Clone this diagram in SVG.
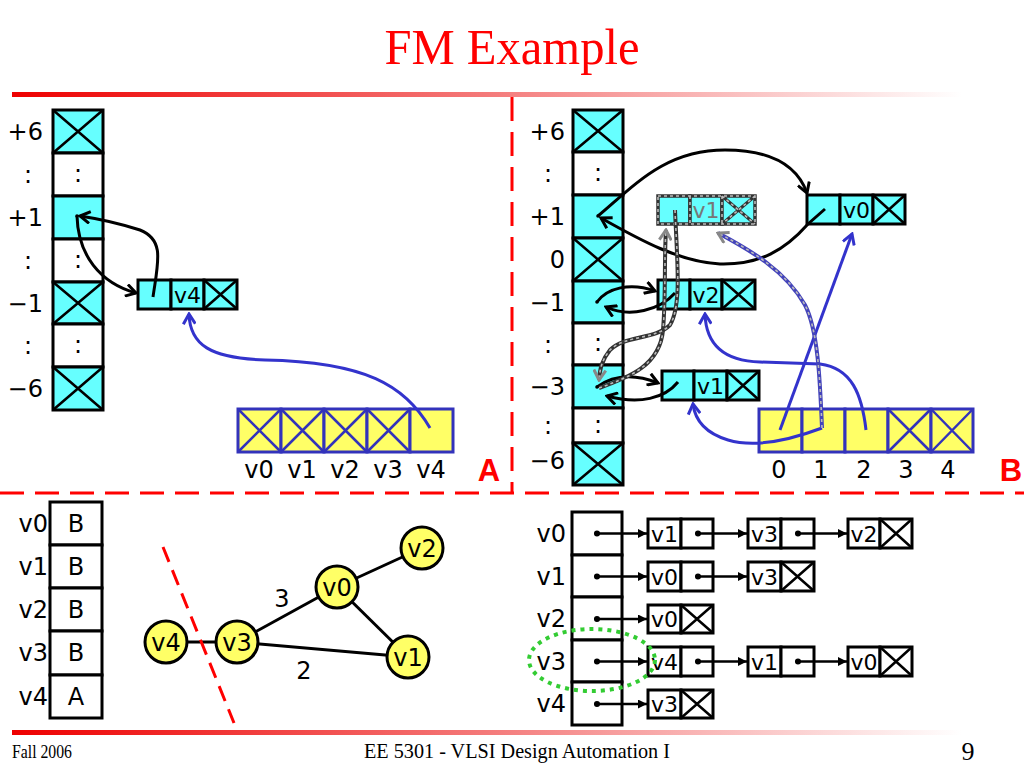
<svg xmlns="http://www.w3.org/2000/svg" width="1024" height="768" viewBox="0 0 1024 768">
<defs>
<linearGradient id="rg" x1="0" y1="0" x2="1" y2="0">
<stop offset="0" stop-color="#ee0000"/><stop offset="0.5" stop-color="#f47a7a"/><stop offset="1" stop-color="#ffffff"/>
</linearGradient>
<marker id="ab" viewBox="0 0 14 14" refX="12" refY="7" markerWidth="14" markerHeight="14" markerUnits="userSpaceOnUse" orient="auto"><path d="M2,1 L12,7 L2,13" fill="none" stroke="#000" stroke-width="3"/></marker>
<marker id="abl" viewBox="0 0 14 14" refX="12" refY="7" markerWidth="14" markerHeight="14" markerUnits="userSpaceOnUse" orient="auto"><path d="M2,1 L12,7 L2,13" fill="none" stroke="#3333cc" stroke-width="3"/></marker>
<marker id="agr" viewBox="0 0 14 14" refX="12" refY="7" markerWidth="14" markerHeight="14" markerUnits="userSpaceOnUse" orient="auto"><path d="M2,1 L12,7 L2,13" fill="none" stroke="#888" stroke-width="3"/></marker>
<marker id="tri" viewBox="0 0 10 10" refX="10" refY="5" markerWidth="10" markerHeight="9" markerUnits="userSpaceOnUse" orient="auto"><path d="M0,0 L10,5 L0,10 z" fill="#000"/></marker>
</defs>
<style>
.lbl{font-family:"DejaVu Sans","Liberation Sans",sans-serif;font-size:24px;fill:#000}
.sm{font-family:"DejaVu Sans","Liberation Sans",sans-serif;font-size:22px;fill:#000}
.ser{font-family:"Liberation Serif",serif;fill:#000}
.cell{stroke:#000;stroke-width:3}
.cy{fill:#66ffff}
.wh{fill:#fff}
.x{stroke:#000;stroke-width:2.5}
.yb{fill:#ffff66;stroke:#3333bb;stroke-width:3}
.bx{stroke:#3333bb;stroke-width:2.5}
.blk{fill:none;stroke:#000;stroke-width:3}
.blu{fill:none;stroke:#3333cc;stroke-width:3}
.dsh1{fill:none;stroke:#333;stroke-width:4}
.dsh2{fill:none;stroke:#bbb;stroke-width:1.6;stroke-dasharray:3 3}
.red{fill:none;stroke:#ff0000;stroke-width:3;stroke-dasharray:24 11}
.c{text-anchor:middle}
.e{text-anchor:end}
</style>
<rect width="1024" height="768" fill="#fff"/>
<text x="512" y="64" class="ser c" font-size="50" style="fill:#ff0000" textLength="255" lengthAdjust="spacingAndGlyphs">FM Example</text>
<rect x="12" y="92" width="950" height="5" fill="url(#rg)"/>
<rect x="12" y="730" width="950" height="5" fill="url(#rg)"/>
<line x1="512" y1="97" x2="512" y2="492" class="red"/>
<line x1="0" y1="493" x2="1024" y2="493" class="red"/>

<!-- Panel A -->
<g id="bucketA">
<rect x="53" y="110" width="50" height="43" class="cell cy"/><path d="M53,110 L103,153 M103,110 L53,153" class="x"/>
<rect x="53" y="153" width="50" height="43" class="cell wh"/><text x="78" y="182" class="lbl c">:</text>
<rect x="53" y="196" width="50" height="43" class="cell cy"/>
<rect x="53" y="239" width="50" height="43" class="cell wh"/><text x="78" y="268" class="lbl c">:</text>
<rect x="53" y="282" width="50" height="42" class="cell cy"/><path d="M53,282 L103,324 M103,282 L53,324" class="x"/>
<rect x="53" y="324" width="50" height="43" class="cell wh"/><text x="78" y="353" class="lbl c">:</text>
<rect x="53" y="367" width="50" height="43" class="cell cy"/><path d="M53,367 L103,410 M103,367 L53,410" class="x"/>
<circle cx="77" cy="216" r="1.8"/>
</g>
<g id="labelsA">
<text x="43" y="140" class="lbl e">+6</text>
<text x="28" y="183" class="lbl c">:</text>
<text x="43" y="226" class="lbl e">+1</text>
<text x="28" y="269" class="lbl c">:</text>
<text x="43" y="312" class="lbl e">−1</text>
<text x="28" y="354" class="lbl c">:</text>
<text x="43" y="397" class="lbl e">−6</text>
</g>
<g id="nodeA-v4">
<rect x="138" y="280" width="33" height="29" class="cell cy"/>
<rect x="171" y="280" width="33" height="29" class="cell cy"/><text x="187.5" y="302.5" class="sm c">v4</text>
<rect x="204" y="280" width="33" height="29" class="cell cy"/><path d="M204,280 L237,309 M237,280 L204,309" class="x"/>
</g>
<g id="gainA">
<rect x="238" y="409" width="43" height="43" class="yb"/><path d="M238,409 L281,452 M281,409 L238,452" class="bx"/>
<rect x="281" y="409" width="43" height="43" class="yb"/><path d="M281,409 L324,452 M324,409 L281,452" class="bx"/>
<rect x="324" y="409" width="43" height="43" class="yb"/><path d="M324,409 L367,452 M367,409 L324,452" class="bx"/>
<rect x="367" y="409" width="43" height="43" class="yb"/><path d="M367,409 L410,452 M410,409 L367,452" class="bx"/>
<rect x="410" y="409" width="43" height="43" class="yb"/>
<text x="259" y="478" class="lbl c">v0</text><text x="302" y="478" class="lbl c">v1</text><text x="345" y="478" class="lbl c">v2</text><text x="388" y="478" class="lbl c">v3</text><text x="431" y="478" class="lbl c">v4</text>
</g>
<text x="489" y="481" font-family="Liberation Sans,sans-serif" font-weight="bold" font-size="31" fill="#ff0000" text-anchor="middle">A</text>
<g id="connectorsA">
<path d="M77,216 C78,255 100,283 136,293" class="blk" marker-end="url(#ab)"/>
<path d="M153,297 C158,262 165,240 140,230 C115,222 100,219 80,216" class="blk" marker-end="url(#ab)"/>
<path d="M430,428 C405,385 365,362 265,360 C210,358 190,345 189,314" class="blu" marker-end="url(#abl)"/>
</g>

<!-- Panel B -->
<g id="bucketB">
<rect x="573" y="110" width="50" height="42" class="cell cy"/><path d="M573,110 L623,152 M623,110 L573,152" class="x"/>
<rect x="573" y="152" width="50" height="43" class="cell wh"/><text x="598" y="181" class="lbl c">:</text>
<rect x="573" y="195" width="50" height="43" class="cell cy"/>
<rect x="573" y="238" width="50" height="43" class="cell cy"/><path d="M573,238 L623,281 M623,238 L573,281" class="x"/>
<rect x="573" y="281" width="50" height="42" class="cell cy"/>
<rect x="573" y="323" width="50" height="42" class="cell wh"/><text x="598" y="351" class="lbl c">:</text>
<rect x="573" y="365" width="50" height="43" class="cell cy"/>
<rect x="573" y="408" width="50" height="35" class="cell wh"/><text x="598" y="433" class="lbl c">:</text>
<rect x="573" y="443" width="50" height="42" class="cell cy"/><path d="M573,443 L623,485 M623,443 L573,485" class="x"/>
</g>
<g id="labelsB">
<text x="565" y="140" class="lbl e">+6</text>
<text x="548" y="182" class="lbl c">:</text>
<text x="565" y="225" class="lbl e">+1</text>
<text x="565" y="268" class="lbl e">0</text>
<text x="565" y="311" class="lbl e">−1</text>
<text x="548" y="353" class="lbl c">:</text>
<text x="565" y="395" class="lbl e">−3</text>
<text x="548" y="434" class="lbl c">:</text>
<text x="565" y="469" class="lbl e">−6</text>
</g>
<g id="nodeB-v1-dashed">
<rect x="658" y="196" width="32" height="28" class="cy" stroke="#333" stroke-width="3.5"/>
<rect x="690" y="196" width="32" height="28" class="cy" stroke="#333" stroke-width="3.5"/>
<rect x="722" y="196" width="33" height="28" class="cy" stroke="#333" stroke-width="3.5"/>
<path d="M722,196 L755,224 M755,196 L722,224" stroke="#333" stroke-width="3"/>
<path d="M658,196 H755 V224 H658 Z M690,196 V224 M722,196 V224 M722,196 L755,224 M755,196 L722,224" class="dsh2"/>
<text x="706" y="218" class="sm c" style="fill:#777">v1</text>
</g>
<g id="nodeB-v0">
<rect x="807" y="195" width="33" height="29" class="cell cy"/>
<rect x="840" y="195" width="33" height="29" class="cell cy"/><text x="856.5" y="217.5" class="sm c">v0</text>
<rect x="873" y="195" width="32" height="29" class="cell cy"/><path d="M873,195 L905,224 M905,195 L873,224" class="x"/>
</g>
<g id="nodeB-v2">
<rect x="658" y="280" width="32" height="29" class="cell cy"/>
<rect x="690" y="280" width="32" height="29" class="cell cy"/><text x="706" y="302.5" class="sm c">v2</text>
<rect x="722" y="280" width="33" height="29" class="cell cy"/><path d="M722,280 L755,309 M755,280 L722,309" class="x"/>
</g>
<g id="nodeB-v1">
<rect x="662" y="371" width="32" height="29" class="cell cy"/>
<rect x="694" y="371" width="33" height="29" class="cell cy"/><text x="710.5" y="393.5" class="sm c">v1</text>
<rect x="727" y="371" width="32" height="29" class="cell cy"/><path d="M727,371 L759,400 M759,371 L727,400" class="x"/>
</g>
<g id="gainB">
<rect x="759" y="409" width="43" height="43" class="yb"/>
<rect x="802" y="409" width="43" height="43" class="yb"/>
<rect x="845" y="409" width="43" height="43" class="yb"/>
<rect x="888" y="409" width="43" height="43" class="yb"/><path d="M888,409 L931,452 M931,409 L888,452" class="bx"/>
<rect x="931" y="409" width="42" height="43" class="yb"/><path d="M931,409 L973,452 M973,409 L931,452" class="bx"/>
<text x="779" y="478" class="lbl c">0</text><text x="821" y="478" class="lbl c">1</text><text x="864" y="478" class="lbl c">2</text><text x="906" y="478" class="lbl c">3</text><text x="948" y="478" class="lbl c">4</text>
</g>
<text x="1011" y="481" font-family="Liberation Sans,sans-serif" font-weight="bold" font-size="31" fill="#ff0000" text-anchor="middle">B</text>
<g id="connectorsB">
<path d="M598,216 C635,185 665,150 725,150 C775,150 798,168 807,193" class="blk" marker-end="url(#ab)"/>
<path d="M825,209 L808,224 C785,250 760,265 720,264 C680,262 640,240 601,218" class="blk" marker-end="url(#ab)"/>
<path d="M597,302 C607,288 630,282 655,291" class="blk" marker-end="url(#ab)"/>
<path d="M675,293 C660,310 630,318 606,307" class="blk" marker-end="url(#ab)"/>
<path d="M597,387 C615,374 635,374 658,383" class="blk" marker-end="url(#ab)"/>
<path d="M678,382 C665,398 640,405 607,396" class="blk" marker-end="url(#ab)"/>
<path d="M599,388 C630,377 660,365 663,330 C666,295 664,260 666,230" class="dsh1"/>
<path d="M599,388 C630,377 660,365 663,330 C666,295 664,260 666,230" class="dsh2" marker-end="url(#agr)"/>
<path d="M675,210 C677,260 682,305 670,325 C655,340 625,335 610,350 C602,360 600,368 599,380" class="dsh1"/>
<path d="M675,210 C677,260 682,305 670,325 C655,340 625,335 610,350 C602,360 600,368 599,380" class="dsh2" marker-end="url(#agr)"/>
<path d="M780,430 L852,234" class="blu" marker-end="url(#abl)"/>
<path d="M866,430 C862,395 852,368 820,364 L760,362 C725,361 706,345 705,314" class="blu" marker-end="url(#abl)"/>
<path d="M822,428 C790,440 755,448 728,440 C705,433 695,420 693,404" class="blu" marker-end="url(#abl)"/>
<path d="M822,428 C820,380 818,330 805,305 C785,270 750,250 718,233" fill="none" stroke="#4444bb" stroke-width="4"/>
<path d="M822,428 C820,380 818,330 805,305 C785,270 750,250 718,233" class="dsh2" marker-end="url(#agr)"/>
<circle cx="598" cy="216" r="1.8"/><circle cx="597" cy="302" r="1.8"/><circle cx="597" cy="387" r="1.8"/>
</g>

<!-- Bottom left: partition table -->
<g id="partTable">
<rect x="50" y="502" width="52" height="43" class="cell wh"/><text x="76" y="532" class="lbl c">B</text>
<rect x="50" y="545" width="52" height="43" class="cell wh"/><text x="76" y="575" class="lbl c">B</text>
<rect x="50" y="588" width="52" height="43" class="cell wh"/><text x="76" y="618" class="lbl c">B</text>
<rect x="50" y="631" width="52" height="44" class="cell wh"/><text x="76" y="661" class="lbl c">B</text>
<rect x="50" y="675" width="52" height="43" class="cell wh"/><text x="76" y="705" class="lbl c">A</text>
<text x="48" y="532" class="lbl e">v0</text>
<text x="48" y="575" class="lbl e">v1</text>
<text x="48" y="618" class="lbl e">v2</text>
<text x="48" y="661" class="lbl e">v3</text>
<text x="48" y="705" class="lbl e">v4</text>
</g>

<!-- Bottom graph -->
<g id="graphEdges" stroke="#000" stroke-width="3">
<line x1="337" y1="587" x2="422" y2="548"/>
<line x1="337" y1="587" x2="237" y2="642"/>
<line x1="337" y1="587" x2="408" y2="657"/>
<line x1="237" y1="642" x2="408" y2="657"/>
<line x1="166" y1="642" x2="237" y2="642"/>
</g>
<line x1="163" y1="547" x2="234" y2="723" class="red" style="stroke-dasharray:16 9"/>
<g id="g-v2"><circle cx="422" cy="548" r="21" fill="#ffff66" stroke="#000" stroke-width="3"/><text x="422" y="557" class="lbl c">v2</text></g>
<g id="g-v0"><circle cx="337" cy="587" r="21" fill="#ffff66" stroke="#000" stroke-width="3"/><text x="337" y="596" class="lbl c">v0</text></g>
<g id="g-v4"><circle cx="166" cy="642" r="21" fill="#ffff66" stroke="#000" stroke-width="3"/><text x="166" y="651" class="lbl c">v4</text></g>
<g id="g-v3"><circle cx="237" cy="642" r="21" fill="#ffff66" stroke="#000" stroke-width="3"/><text x="237" y="651" class="lbl c">v3</text></g>
<g id="g-v1"><circle cx="408" cy="657" r="21" fill="#ffff66" stroke="#000" stroke-width="3"/><text x="408" y="666" class="lbl c">v1</text></g>
<text x="282" y="607" class="lbl c">3</text>
<text x="304" y="679" class="lbl c">2</text>

<!-- Bottom right: adjacency list -->
<g id="adjCol">
<rect x="572" y="512" width="50" height="43" class="cell wh"/>
<rect x="572" y="555" width="50" height="42" class="cell wh"/>
<rect x="572" y="597" width="50" height="43" class="cell wh"/>
<rect x="572" y="640" width="50" height="42" class="cell wh"/>
<rect x="572" y="682" width="50" height="43" class="cell wh"/>
<text x="566" y="542" class="lbl e">v0</text>
<text x="566" y="585" class="lbl e">v1</text>
<text x="566" y="627" class="lbl e">v2</text>
<text x="566" y="670" class="lbl e">v3</text>
<text x="566" y="712" class="lbl e">v4</text>
</g>
<g id="adj-v0">
<rect x="648" y="519" width="33" height="29" class="cell wh"/><text x="664.5" y="541.5" class="sm c">v1</text>
<rect x="681" y="519" width="32" height="29" class="cell wh"/>
<rect x="748" y="519" width="33" height="29" class="cell wh"/><text x="764.5" y="541.5" class="sm c">v3</text>
<rect x="781" y="519" width="33" height="29" class="cell wh"/>
<rect x="848" y="519" width="32" height="29" class="cell wh"/><text x="864" y="541.5" class="sm c">v2</text>
<rect x="880" y="519" width="32" height="29" class="cell wh"/><path d="M880,519 L912,548 M912,519 L880,548" class="x"/>
</g>
<g id="adj-v1">
<rect x="648" y="562" width="33" height="29" class="cell wh"/><text x="664.5" y="584.5" class="sm c">v0</text>
<rect x="681" y="562" width="32" height="29" class="cell wh"/>
<rect x="748" y="562" width="33" height="29" class="cell wh"/><text x="764.5" y="584.5" class="sm c">v3</text>
<rect x="781" y="562" width="33" height="29" class="cell wh"/><path d="M781,562 L814,591 M814,562 L781,591" class="x"/>
</g>
<g id="adj-v2">
<rect x="648" y="605" width="33" height="28" class="cell wh"/><text x="664.5" y="627" class="sm c">v0</text>
<rect x="681" y="605" width="32" height="28" class="cell wh"/><path d="M681,605 L713,633 M713,605 L681,633" class="x"/>
</g>
<g id="adj-v3">
<rect x="648" y="647" width="33" height="29" class="cell wh"/><text x="664.5" y="669.5" class="sm c">v4</text>
<rect x="681" y="647" width="32" height="29" class="cell wh"/>
<rect x="748" y="647" width="33" height="29" class="cell wh"/><text x="764.5" y="669.5" class="sm c">v1</text>
<rect x="781" y="647" width="33" height="29" class="cell wh"/>
<rect x="848" y="647" width="32" height="29" class="cell wh"/><text x="864" y="669.5" class="sm c">v0</text>
<rect x="880" y="647" width="32" height="29" class="cell wh"/><path d="M880,647 L912,676 M912,647 L880,676" class="x"/>
</g>
<g id="adj-v4">
<rect x="648" y="690" width="33" height="28" class="cell wh"/><text x="664.5" y="712" class="sm c">v3</text>
<rect x="681" y="690" width="32" height="28" class="cell wh"/><path d="M681,690 L713,718 M713,690 L681,718" class="x"/>
</g>
<g id="adjArrows" stroke="#000" stroke-width="2.5">
<circle cx="597" cy="533.5" r="1.8"/><line x1="599" y1="533.5" x2="647" y2="533.5" marker-end="url(#tri)"/>
<circle cx="698" cy="533.5" r="1.8"/><line x1="700" y1="533.5" x2="747" y2="533.5" marker-end="url(#tri)"/>
<circle cx="798" cy="533.5" r="1.8"/><line x1="800" y1="533.5" x2="847" y2="533.5" marker-end="url(#tri)"/>
<circle cx="597" cy="576.5" r="1.8"/><line x1="599" y1="576.5" x2="647" y2="576.5" marker-end="url(#tri)"/>
<circle cx="698" cy="576.5" r="1.8"/><line x1="700" y1="576.5" x2="747" y2="576.5" marker-end="url(#tri)"/>
<circle cx="597" cy="619" r="1.8"/><line x1="599" y1="619" x2="647" y2="619" marker-end="url(#tri)"/>
<circle cx="597" cy="661.5" r="1.8"/><line x1="599" y1="661.5" x2="647" y2="661.5" marker-end="url(#tri)"/>
<circle cx="698" cy="661.5" r="1.8"/><line x1="700" y1="661.5" x2="747" y2="661.5" marker-end="url(#tri)"/>
<circle cx="798" cy="661.5" r="1.8"/><line x1="800" y1="661.5" x2="847" y2="661.5" marker-end="url(#tri)"/>
<circle cx="597" cy="704" r="1.8"/><line x1="599" y1="704" x2="647" y2="704" marker-end="url(#tri)"/>
</g>
<ellipse cx="592" cy="660" rx="63" ry="31" fill="none" stroke="#33cc33" stroke-width="4" stroke-dasharray="4 5"/>

<!-- Footer -->
<text x="12" y="758" class="ser" font-size="19" textLength="60" lengthAdjust="spacingAndGlyphs">Fall 2006</text>
<text x="517" y="758" class="ser c" font-size="21" textLength="306" lengthAdjust="spacingAndGlyphs">EE 5301 - VLSI Design Automation I</text>
<text x="968" y="760" class="ser c" font-size="26">9</text>
</svg>
